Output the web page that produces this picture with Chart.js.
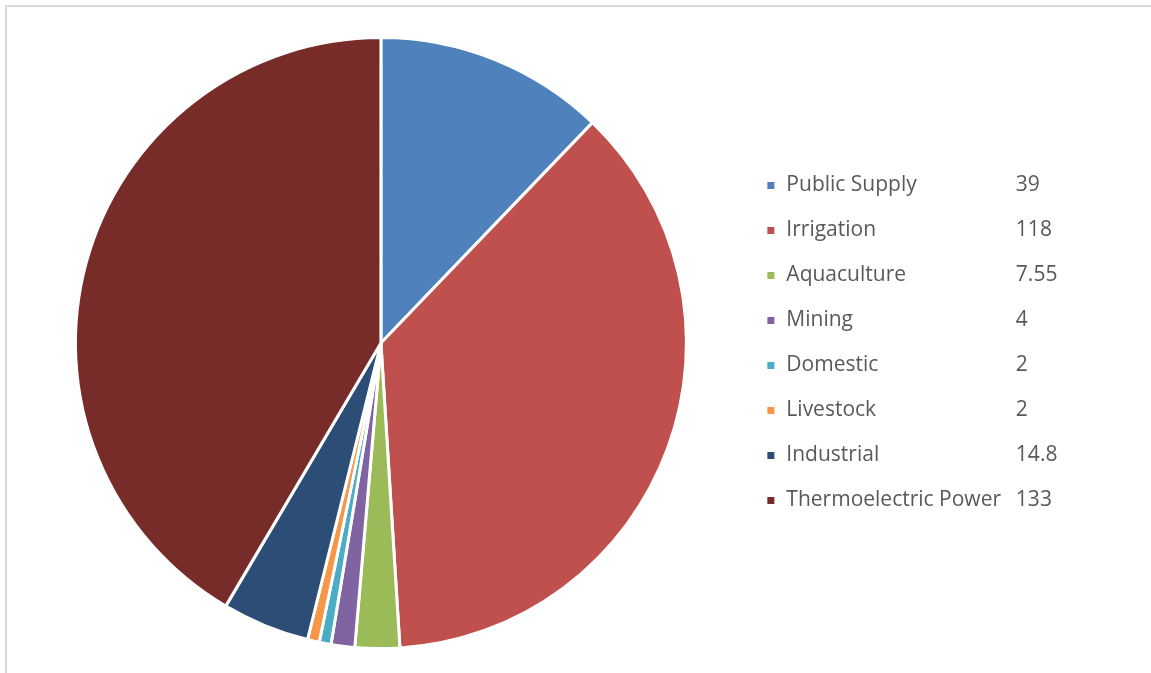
<!DOCTYPE html>
<html>
<head>
  <meta charset="utf-8">
  <title>Water use</title>
  <script src="https://cdn.jsdelivr.net/npm/chart.js@4.4.1/dist/chart.umd.min.js"></script>
  <style>
    html, body { margin: 0; padding: 0; background: #fff; }
    #frame {
      position: absolute; left: 5px; top: 5px; width: 1160px; height: 700px;
      border-top: 2px solid #d9d9d9; border-left: 2px solid #d9d9d9;
    }
    #wrap { position: absolute; left: 0; top: 0; width: 1151px; height: 673px; }
  </style>
</head>
<body>
  <div id="frame"></div>
  <div id="wrap"><canvas id="myChart"></canvas></div>
  <script type="text/javascript">
    var categories = ["Public Supply", "Irrigation", "Aquaculture", "Mining",
                      "Domestic", "Livestock", "Industrial", "Thermoelectric Power"];
    var values = [39, 118, 7.55, 4, 2, 2, 14.8, 133];
    var valueLabels = ["39", "118", "7.55", "4", "2", "2", "14.8", "133"];
    var COLORS = ["#4F81BD", "#C0504D", "#9BBB59", "#8064A2",
                  "#4BACC6", "#F79646", "#2C4D75", "#772C2A"];

    var FONT = "'Open Sans', sans-serif";

    // writes the value next to each legend entry, like the Excel sheet did
    var legendValues = {
      id: 'legendValues',
      afterDraw: function(chart) {
        var legend = chart.legend;
        if (!legend || !legend.legendHitBoxes) return;
        var ctx = chart.ctx;
        ctx.save();
        ctx.font = "21px " + FONT;
        ctx.fillStyle = "#595959";
        ctx.textBaseline = "middle";
        ctx.textAlign = "left";
        legend.legendHitBoxes.forEach(function(box, i) {
          ctx.fillText(valueLabels[i], box.left + 250, box.top + box.height / 2);
        });
        ctx.restore();
      }
    };

    var ctx = document.getElementById("myChart");
    new Chart(ctx, {
      type: 'pie',
      data: {
        labels: categories,
        datasets: [{
          data: values,
          backgroundColor: COLORS,
          borderColor: "#ffffff",
          borderWidth: 3,
          hoverOffset: 0
        }]
      },
      options: {
        responsive: true,
        maintainAspectRatio: false,
        animation: false,
        layout: { padding: { top: 36, bottom: 23, left: 20, right: 140 } },
        plugins: {
          tooltip: { enabled: false },
          legend: {
            position: 'right',
            align: 'center',
            labels: {
              boxWidth: 10,
              boxHeight: 10,
              padding: 24,
              color: "#595959",
              font: { family: FONT, size: 21 }
            }
          }
        }
      },
      plugins: [legendValues]
    });
  </script>
</body>
</html>
